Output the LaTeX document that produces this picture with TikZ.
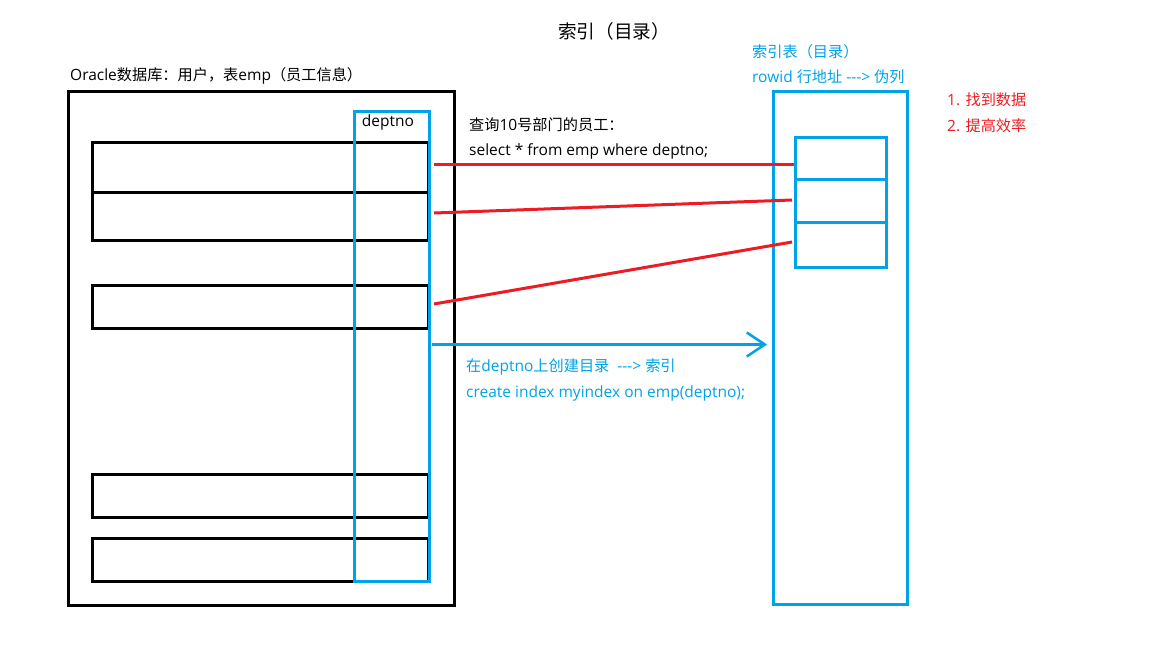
\documentclass[tikz,border=0pt]{standalone}
\usepackage{fontspec}
\setmainfont{Open Sans}
\newfontfamily\cjk{Noto Sans CJK SC}[Scale=0.98]
\usetikzlibrary{arrows.meta}
\definecolor{pblue}{HTML}{00A2E8}
\definecolor{pred}{HTML}{ED1C24}
\newcommand{\zh}[1]{{\cjk #1}}
\tikzset{
  blk/.style={draw=black,line width=3pt},
  blu/.style={draw=pblue,line width=3pt},
  redline/.style={draw=pred,line width=3pt},
  txt/.style={anchor=west,inner sep=0pt,font=\fontsize{15.5}{17}\selectfont},
}
\begin{document}
\begin{tikzpicture}[x=1pt,y=-1pt]
\useasboundingbox (0,0) rectangle (1152,648);
% title
\node[inner sep=0pt,font=\fontsize{19}{22}\selectfont] (title) at (614,31) {\zh{索引（目录）}};
% left table
\node[txt] (tlabel) at (70,76) {Oracle\zh{数据库：用户，表}emp\zh{（员工信息）}};
\draw[blk] (68,91) rectangle (454,605);
\draw[blk] (92,142) rectangle (428,192);
\draw[blk] (92,192) rectangle (428,240);
\draw[blk] (92,285) rectangle (428,328);
\draw[blk] (92,474) rectangle (428,517);
\draw[blk] (92,538) rectangle (428,581);
\draw[blu] (354,111) rectangle (429,581);
\node[inner sep=0pt,font=\fontsize{15.5}{17}\selectfont] (dlabel) at (388,122) {deptno};
% query text
\node[txt] (q1) at (469,125) {\zh{查询}10\zh{号部门的员工：}};
\node[txt] (q2) at (469,151) {select * from emp where deptno;};
% index table
\node[txt,text=pblue] (i1) at (752,52) {\zh{索引表（目录）}};
\node[txt,text=pblue] (i2) at (752,77) {rowid \zh{行地址} -{}-{}-> \zh{伪列}};
\draw[blu] (773,91) rectangle (907,604);
\draw[blu] (795,137) rectangle (886,267);
\draw[blu] (795,179) -- (886,179);
\draw[blu] (795,222) -- (886,222);
% red notes
\node[txt,text=pred] (r1) at (947,100) {1. \zh{找到数据}};
\node[txt,text=pred] (r2) at (947,126) {2. \zh{提高效率}};
% connectors
\coordinate (a1) at (434,164.5); \coordinate (b1) at (794,164.5);
\coordinate (a2) at (434,213); \coordinate (b2) at (792,200);
\coordinate (a3) at (434,304); \coordinate (b3) at (792,242);
\draw[redline] (a1) -- (b1);
\draw[redline] (a2) -- (b2);
\draw[redline] (a3) -- (b3);
\coordinate (s) at (432,344.5); \coordinate (e) at (767,344.5);
\draw[draw=pblue,line width=3pt,-{Straight Barb[length=18pt,width=24pt,line width=2.5pt]}] (s) -- (e);
\node[txt,text=pblue] (c1) at (466,367) {\zh{在}deptno\zh{上创建目录} \ -{}-{}-> \zh{索引}};
\node[txt,text=pblue] (c2) at (466,393) {create index myindex on emp(deptno);};
\end{tikzpicture}
\end{document}
